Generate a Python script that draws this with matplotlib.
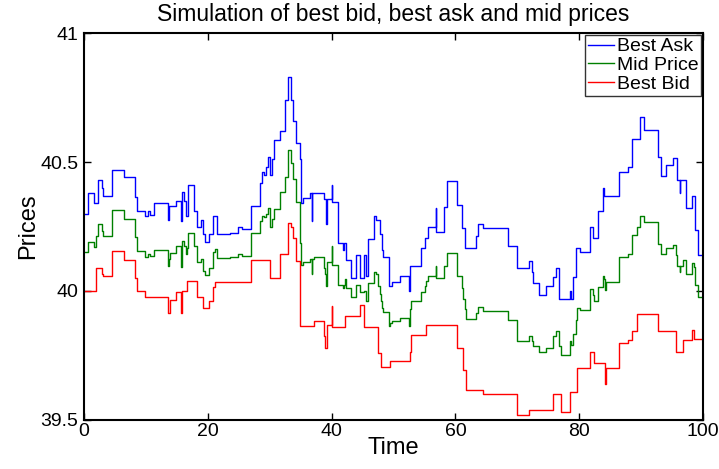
import numpy as np
import matplotlib.pyplot as plt

plt.rcParams['font.family'] = ['Liberation Sans', 'DejaVu Sans']

# Best ask: step change times and levels
ask_t = [0, 0.7, 1.6, 2.2, 2.9, 3.1, 4.6, 6.5, 8.2, 8.5, 9.85, 10.4, 10.7, 11.3,
         13.5, 13.8, 14.8, 15.7, 15.8, 16.2, 16.5, 16.8, 17.7, 18.2, 18.85, 19.3,
         19.6, 20.2, 20.9, 21.5, 23.6, 24.8, 25.5, 27.0, 28.4, 28.7, 29.1, 29.4,
         29.8, 30.1, 30.3, 30.7, 31.7, 32.4, 32.5, 33.0, 33.4, 33.8, 34.2, 34.9,
         35.0, 35.3, 36.5, 36.8, 36.9, 38.7, 39.1, 39.3, 40.0, 40.1, 41.1, 41.9,
         42.0, 42.3, 43.2, 44.0, 44.6, 45.2, 45.6, 45.9, 46.8, 47.1, 47.8, 48.1,
         48.3, 49.3, 49.7, 51.1, 52.5, 52.6, 54.5, 55.1, 55.6, 56.8, 56.9, 58.2,
         58.7, 60.3, 61.1, 61.6, 63.4, 63.7, 64.4, 68.5, 69.9, 71.9, 72.3, 72.5,
         73.5, 74.7, 75.8, 76.2, 76.7, 76.8, 77.2, 78.5, 78.6, 79.0, 79.5, 80.2,
         81.7, 82.2, 83.0, 83.9, 84.0, 86.4, 87.9, 88.6, 89.8, 90.4, 92.8, 93.2,
         94.0, 95.2, 95.8, 96.2, 96.3, 97.2, 98.2, 98.7, 99.2]
ask_v = [40.30, 40.38, 40.34, 40.43, 40.40, 40.37, 40.47, 40.44, 40.365, 40.31,
         40.29, 40.31, 40.295, 40.34, 40.275, 40.33, 40.35, 40.27, 40.385, 40.35,
         40.29, 40.41, 40.31, 40.25, 40.275, 40.22, 40.19, 40.22, 40.29, 40.22,
         40.225, 40.25, 40.24, 40.33, 40.42, 40.46, 40.45, 40.48, 40.52, 40.45,
         40.51, 40.585, 40.62, 40.66, 40.74, 40.83, 40.74, 40.66, 40.575, 40.51,
         40.34, 40.36, 40.38, 40.27, 40.38, 40.355, 40.26, 40.355, 40.41, 40.345,
         40.185, 40.16, 40.185, 40.12, 40.05, 40.14, 40.05, 40.14, 40.06, 40.20,
         40.29, 40.275, 40.22, 40.16, 40.13, 40.02, 40.035, 40.06, 40.0, 40.095,
         40.165, 40.205, 40.25, 40.32, 40.23, 40.325, 40.425, 40.335, 40.245,
         40.165, 40.215, 40.26, 40.245, 40.175, 40.09, 40.115, 40.075, 40.03,
         39.985, 40.02, 40.055, 40.09, 40.04, 39.97, 39.97, 40.0, 39.97, 40.055,
         40.165, 40.15, 40.25, 40.205, 40.31, 40.40, 40.37, 40.46, 40.48, 40.59,
         40.675, 40.625, 40.52, 40.445, 40.49, 40.515, 40.43, 40.38, 40.43, 40.32,
         40.37, 40.235, 40.14]

# Best bid: step change times and levels
bid_t = [0, 2.0, 2.85, 3.1, 4.6, 6.5, 8.3, 8.6, 9.85, 13.6, 13.9, 14.8, 15.7,
         15.8, 16.6, 18.2, 19.3, 20.2, 20.9, 21.2, 27.0, 30.05, 31.7, 33.0, 33.4,
         33.8, 34.2, 34.9, 37.2, 38.7, 38.9, 39.2, 40.0, 40.1, 42.15, 44.6, 45.2,
         47.5, 48.05, 49.4, 52.7, 52.9, 55.25, 60.3, 61.2, 61.7, 64.4, 69.9, 71.9,
         75.8, 77.1, 78.5, 79.6, 81.7, 82.4, 84.2, 84.3, 86.4, 87.8, 88.6, 89.3,
         92.8, 95.7, 96.8, 98.2, 98.6]
bid_v = [40.0, 40.09, 40.065, 40.06, 40.155, 40.12, 40.05, 40.0, 39.975, 39.915,
         39.965, 39.995, 39.915, 40.0, 40.04, 39.975, 39.935, 39.96, 40.015,
         40.035, 40.12, 40.05, 40.145, 40.265, 40.25, 40.205, 40.115, 39.865,
         39.885, 39.825, 39.78, 39.87, 39.94, 39.86, 39.905, 39.945, 39.86, 39.76,
         39.705, 39.73, 39.765, 39.83, 39.87, 39.78, 39.695, 39.615, 39.60, 39.52,
         39.54, 39.60, 39.53, 39.61, 39.70, 39.765, 39.72, 39.64, 39.70, 39.80,
         39.81, 39.845, 39.91, 39.845, 39.765, 39.81, 39.85, 39.815]


def step_values(t_steps, v_steps, t):
    idx = np.searchsorted(t_steps, t, side='right') - 1
    return np.asarray(v_steps)[idx]


# common time grid, mid price is the average of ask and bid
t_all = np.union1d(np.union1d(ask_t, bid_t), [100])
ask = step_values(ask_t, ask_v, t_all)
bid = step_values(bid_t, bid_v, t_all)
mid = (ask + bid) / 2

fig = plt.figure(figsize=(7.19, 4.69), dpi=100)
ax = fig.add_axes([0.1168, 0.1045, 0.861, 0.8251])

ax.plot(t_all, ask, drawstyle='steps-post', color=(0, 0, 1), linewidth=1.0, label='Best Ask')
ax.plot(t_all, mid, drawstyle='steps-post', color=(0, 0.5, 0), linewidth=1.0, label='Mid Price')
ax.plot(t_all, bid, drawstyle='steps-post', color=(1, 0, 0), linewidth=1.0, label='Best Bid')

ax.set_xlim(0, 100)
ax.set_ylim(39.5, 41)
ax.set_xticks([0, 20, 40, 60, 80, 100])
ax.set_yticks([39.5, 40, 40.5, 41])
ax.set_yticklabels(['39.5', '40', '40.5', '41'])
ax.tick_params(direction='in', length=5, width=1, top=True, right=True,
               labelsize=14, pad=2)
ax.tick_params(axis='y', pad=4)
for s in ax.spines.values():
    s.set_linewidth(1.5)

ax.set_xlabel('Time', fontsize=17, labelpad=-2)
ax.set_ylabel('Prices', fontsize=17, labelpad=1)
ax.set_title('Simulation of best bid, best ask and mid prices', fontsize=16.5, pad=9)

leg = ax.legend(loc='upper right', fontsize=14, frameon=True, fancybox=False,
                handlelength=1.3, handletextpad=0.15, borderpad=0.15,
                labelspacing=0.05, borderaxespad=0.1)
leg.get_frame().set_edgecolor('black')
leg.get_frame().set_linewidth(1.0)

fig.savefig('out.png', dpi=100)
